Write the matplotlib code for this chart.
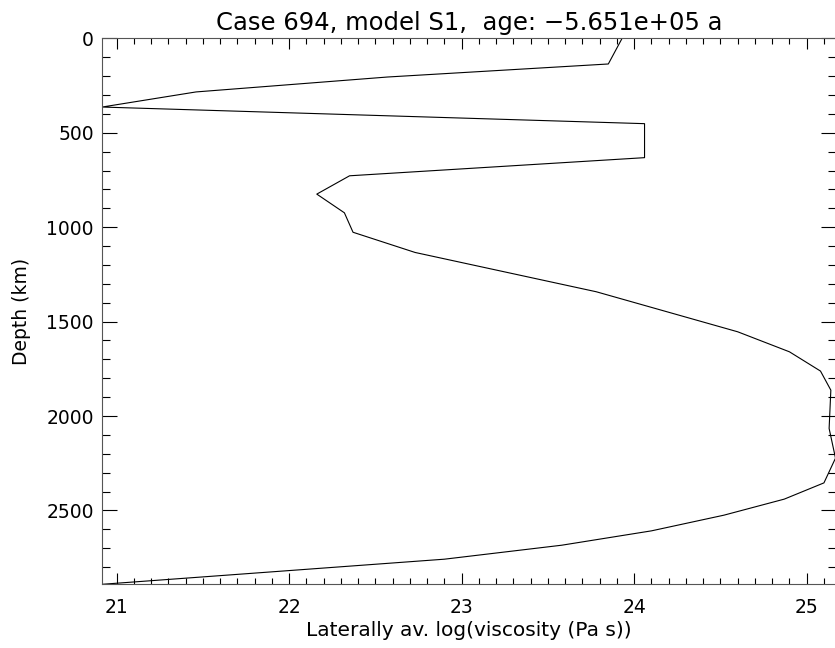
import numpy as np
import matplotlib
matplotlib.use('Agg')
import matplotlib.pyplot as plt
from matplotlib.ticker import MultipleLocator

# laterally averaged log10 viscosity vs depth
log_visc = [23.93, 23.85, 22.57, 21.46, 20.915, 24.06, 24.06, 22.35, 22.16,
            22.32, 22.37, 22.73, 23.78, 24.60, 24.90, 25.08, 25.14, 25.13,
            25.167, 25.10, 24.87, 24.52, 24.10, 23.58, 22.90, 20.915]
depth_km = [0, 136, 205, 284, 364, 452, 632, 728, 825,
            924, 1027, 1134, 1342, 1554, 1660, 1762, 1863, 2066,
            2223, 2354, 2440, 2525, 2608, 2684, 2758, 2891]

title = 'Case 694, model S1,  age: \u22125.651e+05 a'
xlabel = 'Laterally av. log(viscosity (Pa s))'
ylabel = 'Depth (km)'

plt.rcParams['font.family'] = ['DejaVu Sans']

fig = plt.figure(figsize=(8.35, 6.48), dpi=100)
ax = fig.add_axes([0.1222, 0.0983, 0.8784, 0.8426])

ax.plot(log_visc, depth_km, color='black', lw=0.8)

ax.set_xlim(min(log_visc), max(log_visc))
ax.set_ylim(2891, 0)

ax.xaxis.set_major_locator(MultipleLocator(1))
ax.xaxis.set_minor_locator(MultipleLocator(0.1))
ax.yaxis.set_major_locator(MultipleLocator(500))
ax.yaxis.set_minor_locator(MultipleLocator(100))

ax.tick_params(axis='both', which='both', direction='in', top=True, right=True,
               width=0.8, labelsize=13.5, colors='black')
ax.tick_params(axis='x', which='major', length=7.7, pad=10)
ax.tick_params(axis='x', which='minor', length=4)
ax.tick_params(axis='y', which='major', length=10.8, pad=6)
ax.tick_params(axis='y', which='minor', length=5.8)

for s in ax.spines.values():
    s.set_linewidth(0.8)
    s.set_color('#555555')

ax.set_title(title, fontsize=17.5, pad=6)
ax.set_xlabel(xlabel, fontsize=14.5, labelpad=3)
ax.set_ylabel(ylabel, fontsize=13.5, labelpad=11)

fig.savefig('out.png', dpi=100)
